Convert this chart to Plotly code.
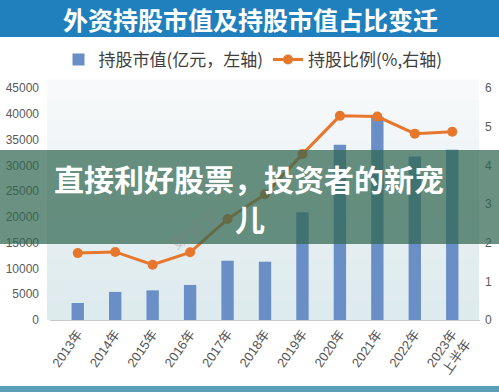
import plotly.graph_objects as go

# ---- data ----
categories = ["2013年", "2014年", "2015年", "2016年", "2017年", "2018年",
              "2019年", "2020年", "2021年", "2022年", "2023年<br>上半年"]
market_value = [3300, 5450, 5750, 6800, 11500, 11300, 20900, 34000, 39400, 31700, 33000]
share_ratio = [1.73, 1.76, 1.43, 1.75, 2.61, 3.25, 4.29, 5.28, 5.26, 4.82, 4.87]
left_ticks = [0, 5000, 10000, 15000, 20000, 25000, 30000, 35000, 40000, 45000]
left_tick_labels = ["0", "5000", "10000", "15000", "20000", "25000", "30000", "35000", "40000", "45000"]
right_ticks = [0, 1, 2, 3, 4, 5, 6]

title_text = "外资持股市值及持股市值占比变迁"
banner_line1 = "直接利好股票，投资者的新宠"
banner_line2 = "儿"
watermark_text = "数据宝"

W, H = 499, 392
L, R, T, B = 50, 480, 88, 320  # plot area in pixels


def px(x):
    return (x - L) / (R - L)


def py(y):
    return (B - y) / (B - T)


CJK = "Noto Sans CJK SC"
NUM = "Liberation Sans, Noto Sans CJK SC"

fig = go.Figure()
fig.add_trace(go.Bar(
    x=categories, y=market_value, name="持股市值(亿元，左轴)",
    marker=dict(color="#6a8fc6", line=dict(width=0)), width=0.33, yaxis="y",
))
fig.add_trace(go.Scatter(
    x=categories, y=share_ratio, name="持股比例(%,右轴)", mode="lines+markers",
    line=dict(color="#e8772e", width=3), marker=dict(color="#e8772e", size=10),
    yaxis="y2",
))

shapes = []
# plot-area gradient background
top_c = (248, 250, 251)
bot_c = (220, 233, 237)
n = 12
y0p, y1p = 0.0, py(80)
for i in range(n):
    t = (i + 0.5) / n
    c = tuple(int(round(bot_c[k] + (top_c[k] - bot_c[k]) * t)) for k in range(3))
    shapes.append(dict(type="rect", xref="paper", yref="paper", layer="below",
                       x0=px(47), x1=px(479),
                       y0=y0p + (y1p - y0p) * i / n, y1=y0p + (y1p - y0p) * (i + 1) / n + 0.002,
                       fillcolor="rgb(%d,%d,%d)" % c, line=dict(width=0)))
# title band
shapes.append(dict(type="rect", xref="paper", yref="paper", layer="above",
                   x0=px(-2), x1=px(W + 2), y0=py(37), y1=py(-2),
                   fillcolor="#1f80bd", line=dict(width=0)))
# bottom teal strip
shapes.append(dict(type="rect", xref="paper", yref="paper", layer="above",
                   x0=px(-2), x1=px(W + 2), y0=py(H + 2), y1=py(386),
                   fillcolor="#5a9fb6", line=dict(width=0)))
# overlay banner
shapes.append(dict(type="rect", xref="paper", yref="paper", layer="above",
                   x0=px(-2), x1=px(W + 2), y0=py(244), y1=py(150),
                   fillcolor="rgba(48,102,80,0.72)", line=dict(width=0)))

annotations = [
    dict(text="<b>%s</b>" % title_text, xref="paper", yref="paper",
         x=px(250), y=py(19), showarrow=False, xanchor="center", yanchor="middle",
         font=dict(family=CJK, size=25, color="white")),
    dict(text=watermark_text, xref="paper", yref="paper",
         x=px(194), y=py(228), showarrow=False, textangle=-35,
         font=dict(family=CJK, size=18, color="rgba(130,130,130,0.35)")),
    dict(text="<b>%s</b>" % banner_line1, xref="paper", yref="paper",
         x=px(249), y=py(178), showarrow=False, xanchor="center", yanchor="middle",
         font=dict(family=CJK, size=30, color="white")),
    dict(text="<b>%s</b>" % banner_line2, xref="paper", yref="paper",
         x=px(250), y=py(218), showarrow=False, xanchor="center", yanchor="middle",
         font=dict(family=CJK, size=30, color="white")),
]

fig.update_layout(
    width=W, height=H,
    margin=dict(l=L, r=W - R, t=T, b=H - B, pad=0, autoexpand=False),
    paper_bgcolor="white", plot_bgcolor="rgba(0,0,0,0)",
    showlegend=True,
    legend=dict(orientation="h", x=px(253), xanchor="center", y=py(60), yanchor="middle",
                font=dict(family=CJK, size=17, color="#404040"),
                bgcolor="rgba(0,0,0,0)", itemwidth=30, tracegroupgap=0),
    bargap=0.67,
    xaxis=dict(type="category", tickangle=-55, showgrid=False, zeroline=False,
               showline=True, linecolor="#c4c8ca", linewidth=1, ticks="",
               automargin=False,
               tickfont=dict(family=NUM, size=13, color="#555555")),
    yaxis=dict(range=[0, 45000], tickvals=left_ticks, ticktext=left_tick_labels,
               showgrid=False, zeroline=False, automargin=False,
               showline=False, ticks="", ticklabelstandoff=10,
               tickfont=dict(family=NUM, size=12, color="#5a5a5a")),
    yaxis2=dict(range=[0, 6], tickvals=right_ticks, overlaying="y", side="right",
                showgrid=False, zeroline=False, showline=False, ticks="",
                ticklabelstandoff=4, automargin=False,
                tickfont=dict(family=NUM, size=12, color="#5a5a5a")),
    shapes=shapes, annotations=annotations,
)

fig.write_html("out.html", config={"displayModeBar": False},
               post_script="document.body.style.margin='0';")
